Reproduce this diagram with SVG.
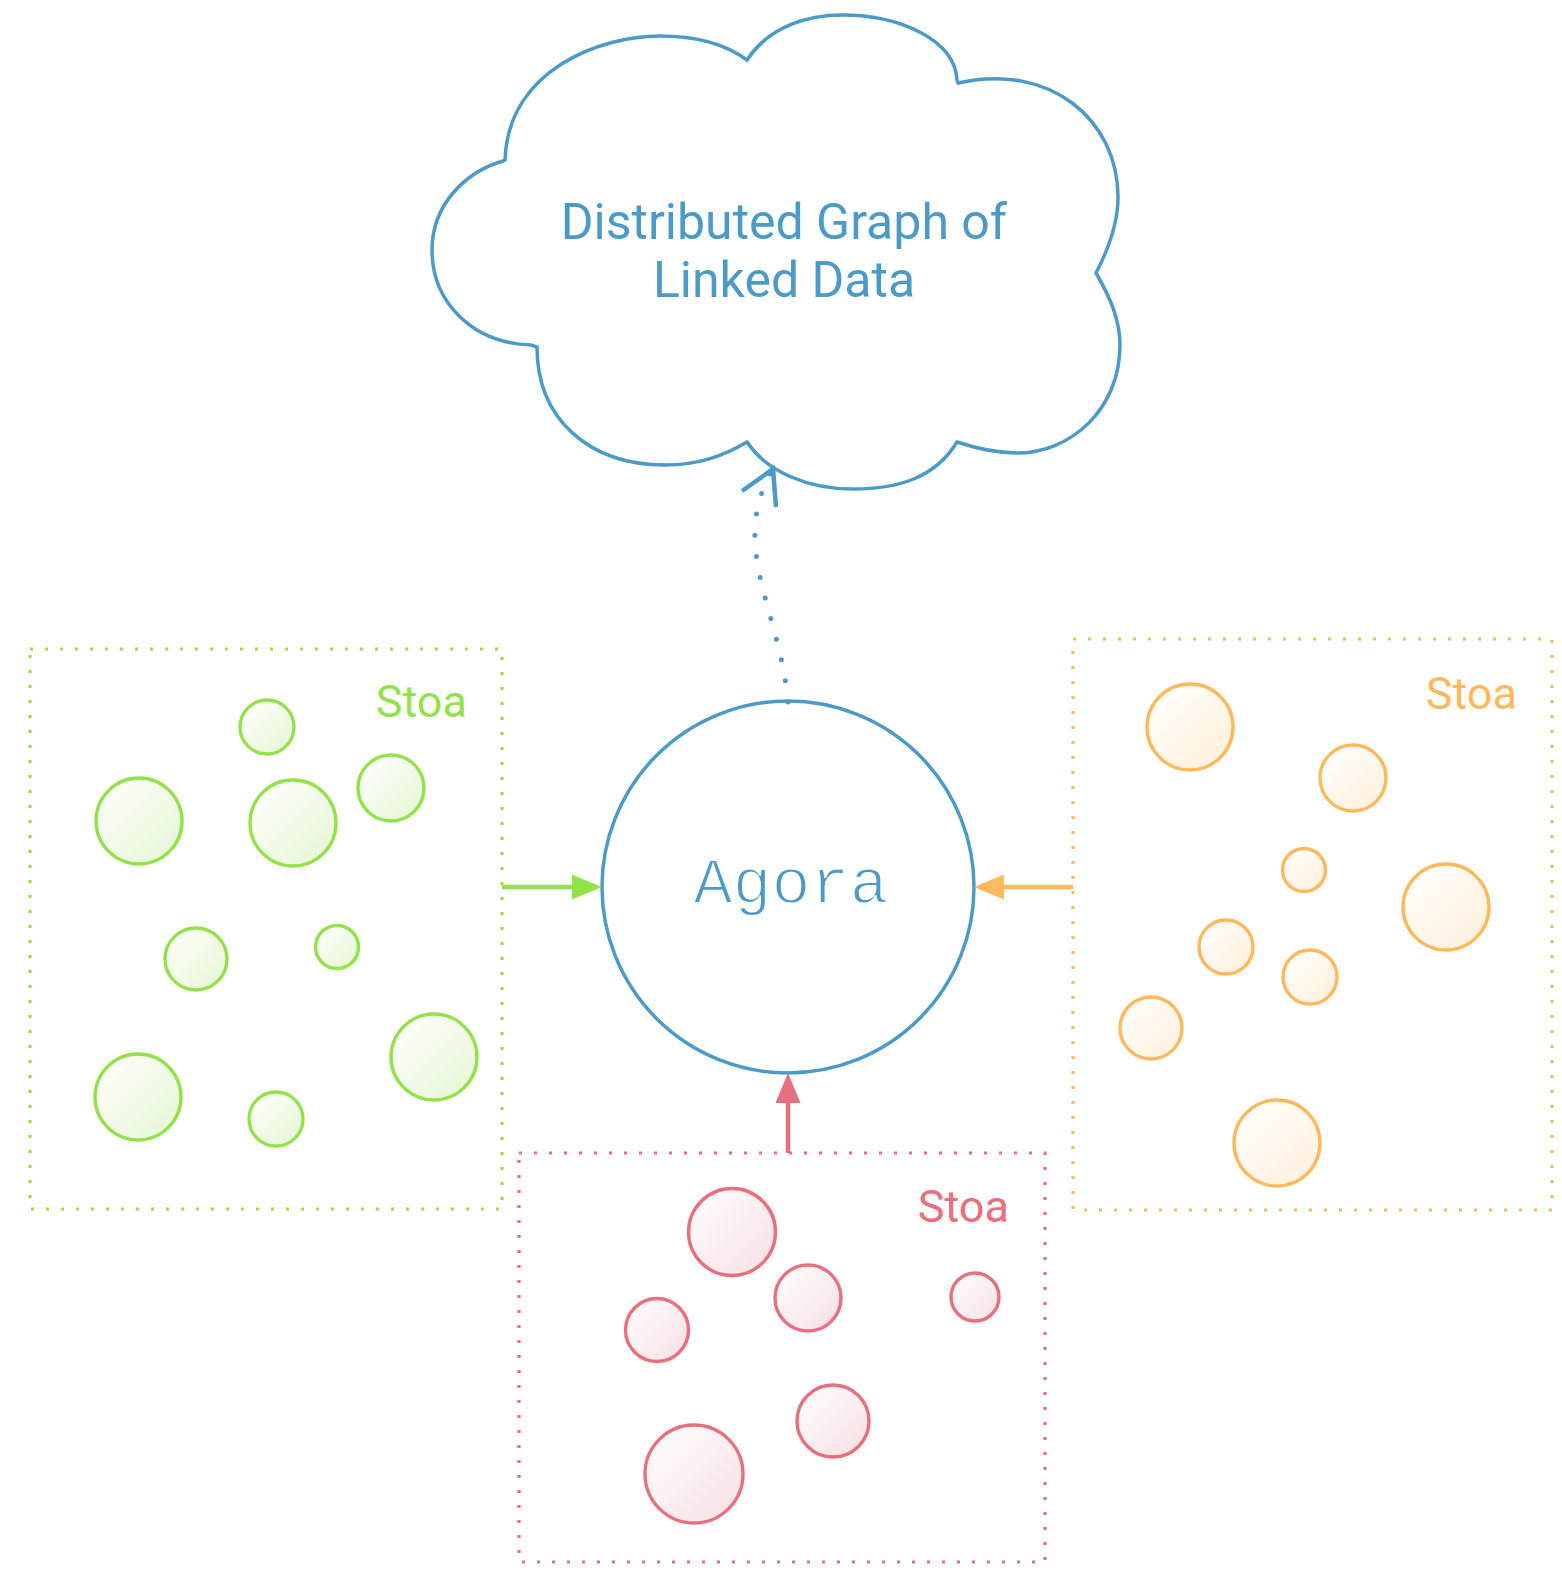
<svg xmlns="http://www.w3.org/2000/svg" width="1562" height="1583" viewBox="0 0 1562 1583">
  <style>
    .label { font-family: Roboto, "Liberation Sans", sans-serif; }
    .stoa-box { fill: none; stroke-width: 3.2; stroke-dasharray: 3 12; }
    .g-box { stroke: #94E24B; }
    .o-box { stroke: #FFB95C; }
    .r-box { stroke: #E8707E; }
    .g-c { fill: url(#gradG); stroke: #94E24B; stroke-width: 3.4; }
    .o-c { fill: url(#gradO); stroke: #FFB95C; stroke-width: 3.4; }
    .r-c { fill: url(#gradR); stroke: #E8707E; stroke-width: 3.4; }
    .stoa-label { font-family: Roboto, "Liberation Sans", sans-serif; font-size: 45px; text-anchor: end; }
  </style>
  <defs>
    <linearGradient id="gradG" x1="0" y1="0" x2="1" y2="1">
      <stop offset="0" stop-color="#FFFFFF"/>
      <stop offset="1" stop-color="#E5F6D3"/>
    </linearGradient>
    <linearGradient id="gradO" x1="0" y1="0" x2="1" y2="1">
      <stop offset="0" stop-color="#FFFFFF"/>
      <stop offset="1" stop-color="#FFEFD9"/>
    </linearGradient>
    <linearGradient id="gradR" x1="0" y1="0" x2="1" y2="1">
      <stop offset="0" stop-color="#FFFFFF"/>
      <stop offset="1" stop-color="#F7DFE2"/>
    </linearGradient>
    <marker id="ahG" viewBox="0 0 30 25" refX="0" refY="12.5" markerWidth="30" markerHeight="25" orient="auto" markerUnits="userSpaceOnUse">
      <path d="M0,0 L30,12.5 L0,25 Z" fill="#94E24B"/>
    </marker>
    <marker id="ahO" viewBox="0 0 30 25" refX="0" refY="12.5" markerWidth="30" markerHeight="25" orient="auto" markerUnits="userSpaceOnUse">
      <path d="M0,0 L30,12.5 L0,25 Z" fill="#FFB95C"/>
    </marker>
    <marker id="ahR" viewBox="0 0 30 25" refX="0" refY="12.5" markerWidth="30" markerHeight="25" orient="auto" markerUnits="userSpaceOnUse">
      <path d="M0,0 L30,12.5 L0,25 Z" fill="#E8707E"/>
    </marker>
  </defs>

  <rect width="1562" height="1583" fill="#FFFFFF"/>

  <g id="cloud">
    <path d="M505,160 C508,70 600,36 660,36 C700,36 728,46 747,60 C770,25 810,15 842,15 C900,15 955,40 957,80 L958,83 C1050,62 1118,120 1118,197 C1118,225 1108,250 1096,273 C1110,297 1120,320 1120,345 C1120,410 1070,453 1017,453 C995,453 975,448 957,442 C935,478 898,489 853,489 C808,489 767,472 747,442 C725,455 700,465 665,465 C590,465 537,420 537,347 L531,345 C470,343 432,300 432,250 C432,205 465,172 503,161 Z" fill="#FFFFFF" stroke="#4B9AC8" stroke-width="3.5"/>
    <text class="label" x="784" y="239" font-size="50" fill="#4B9AC8" text-anchor="middle">Distributed Graph of</text>
    <text class="label" x="784" y="297" font-size="50" fill="#4B9AC8" text-anchor="middle">Linked Data</text>
  </g>

  <g id="agora">
    <circle cx="788" cy="887" r="186" fill="#FFFFFF" stroke="#4B9AC8" stroke-width="3.5"/>
    <text x="791" y="903" font-family="'Liberation Mono', 'DejaVu Sans Mono', monospace" font-size="65" fill="#4B9AC8" stroke="#FFFFFF" stroke-width="1.8" text-anchor="middle">Agora</text>
  </g>

  <g id="stoa-green">
    <rect class="stoa-box g-box" x="30" y="649" width="472" height="560"/>
    <text class="stoa-label" x="467" y="717" fill="#94E24B">Stoa</text>
    <circle class="g-c" cx="267" cy="727" r="27"/>
    <circle class="g-c" cx="139" cy="821" r="43"/>
    <circle class="g-c" cx="293" cy="823" r="43"/>
    <circle class="g-c" cx="391" cy="788" r="33"/>
    <circle class="g-c" cx="196" cy="959" r="31"/>
    <circle class="g-c" cx="337" cy="947" r="21.5"/>
    <circle class="g-c" cx="434" cy="1057" r="43"/>
    <circle class="g-c" cx="138" cy="1097" r="43"/>
    <circle class="g-c" cx="276" cy="1119" r="27"/>
  </g>

  <g id="stoa-orange">
    <rect class="stoa-box o-box" x="1073" y="639" width="479" height="571"/>
    <text class="stoa-label" x="1517" y="709" fill="#FFB95C">Stoa</text>
    <circle class="o-c" cx="1190" cy="727" r="43"/>
    <circle class="o-c" cx="1353" cy="778" r="33"/>
    <circle class="o-c" cx="1304" cy="870" r="21.5"/>
    <circle class="o-c" cx="1446" cy="907" r="43"/>
    <circle class="o-c" cx="1226" cy="947" r="27"/>
    <circle class="o-c" cx="1310" cy="977" r="27"/>
    <circle class="o-c" cx="1151" cy="1028" r="31"/>
    <circle class="o-c" cx="1277" cy="1143" r="43"/>
  </g>

  <g id="stoa-red">
    <rect class="stoa-box r-box" x="519" y="1153" width="526" height="409"/>
    <text class="stoa-label" x="1009" y="1222" fill="#E8707E">Stoa</text>
    <circle class="r-c" cx="732" cy="1232" r="43.5"/>
    <circle class="r-c" cx="808" cy="1298" r="33"/>
    <circle class="r-c" cx="657" cy="1330" r="31.5"/>
    <circle class="r-c" cx="975" cy="1297" r="24"/>
    <circle class="r-c" cx="833" cy="1421" r="36"/>
    <circle class="r-c" cx="694" cy="1474" r="49"/>
  </g>

  <g id="connectors">
    <path d="M788,702 C780,610 728,545 773,469" fill="none" stroke="#4B9AC8" stroke-width="5" stroke-linecap="round" stroke-dasharray="0 21.3"/>
    <path d="M742,491 L773,469 L776,507" fill="none" stroke="#4B9AC8" stroke-width="4.5"/>
    <path d="M502,887 L572,887" stroke="#94E24B" stroke-width="4.5" marker-end="url(#ahG)"/>
    <path d="M1073,887 L1004,887" stroke="#FFB95C" stroke-width="4.5" marker-end="url(#ahO)"/>
    <path d="M788,1153 L788,1103" stroke="#E8707E" stroke-width="4.5" marker-end="url(#ahR)"/>
  </g>
</svg>
